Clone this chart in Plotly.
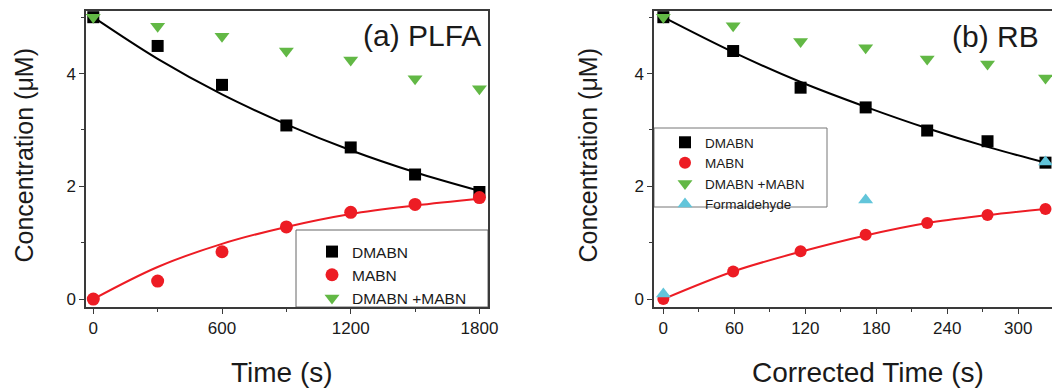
import plotly.graph_objects as go

# ---------------- data: panel (a) PLFA ----------------
time_a = [0, 300, 600, 900, 1200, 1500, 1800]
dmabn_a = [5.00, 4.49, 3.80, 3.08, 2.69, 2.21, 1.90]
mabn_a = [0.00, 0.32, 0.84, 1.28, 1.54, 1.68, 1.80]
sum_a = [5.00, 4.84, 4.66, 4.40, 4.24, 3.91, 3.73]
fit_dmabn_a = [5.00, 4.26, 3.63, 3.10, 2.64, 2.25, 1.92]
fit_mabn_a = [0.00, 0.57, 0.98, 1.28, 1.51, 1.66, 1.78]

# ---------------- data: panel (b) RB ----------------
time_b = [0, 59, 116, 171, 223, 274, 323]
dmabn_b = [5.00, 4.40, 3.75, 3.40, 2.99, 2.80, 2.42]
mabn_b = [0.00, 0.49, 0.85, 1.14, 1.35, 1.49, 1.60]
sum_b = [5.00, 4.85, 4.57, 4.46, 4.26, 4.17, 3.92]
fit_dmabn_b = [5.00, 4.38, 3.85, 3.41, 3.03, 2.70, 2.42]
fit_mabn_b = [0.00, 0.49, 0.84, 1.13, 1.35, 1.49, 1.60]
time_form_b = [0, 171, 323]
form_b = [0.09, 1.76, 2.43]

x_ticks_a = [0, 600, 1200, 1800]
x_ticks_b = [0, 60, 120, 180, 240, 300]
y_ticks = [0, 2, 4]

FONT = "Arial, Liberation Sans, Helvetica, sans-serif"
BLACK = "#000000"
RED = "#ed1c24"
GREEN = "#62b845"
CYAN = "#62c5da"
AXC = "#3a3a3a"
TXT = "#1a1a1a"

fig = go.Figure()

# ---- panel (a) ----
fig.add_trace(go.Scatter(x=time_a, y=fit_dmabn_a, mode="lines", line=dict(color=BLACK, width=2, shape="spline"),
                         showlegend=False, xaxis="x", yaxis="y", hoverinfo="skip"))
fig.add_trace(go.Scatter(x=time_a, y=fit_mabn_a, mode="lines", line=dict(color=RED, width=2, shape="spline"),
                         showlegend=False, xaxis="x", yaxis="y", hoverinfo="skip"))
fig.add_trace(go.Scatter(x=time_a, y=dmabn_a, mode="markers", name="DMABN",
                         marker=dict(symbol="square", size=12, color=BLACK), xaxis="x", yaxis="y", legend="legend"))
fig.add_trace(go.Scatter(x=time_a, y=mabn_a, mode="markers", name="MABN",
                         marker=dict(symbol="circle", size=13, color=RED), xaxis="x", yaxis="y", legend="legend"))
fig.add_trace(go.Scatter(x=time_a, y=sum_a, mode="markers", name="DMABN +MABN",
                         marker=dict(symbol="triangle-down", size=13, color=GREEN), xaxis="x", yaxis="y", legend="legend"))

# ---- panel (b) ----
fig.add_trace(go.Scatter(x=time_b, y=fit_dmabn_b, mode="lines", line=dict(color=BLACK, width=2, shape="spline"),
                         showlegend=False, xaxis="x2", yaxis="y2", hoverinfo="skip"))
fig.add_trace(go.Scatter(x=time_b, y=fit_mabn_b, mode="lines", line=dict(color=RED, width=2, shape="spline"),
                         showlegend=False, xaxis="x2", yaxis="y2", hoverinfo="skip"))
fig.add_trace(go.Scatter(x=time_b, y=dmabn_b, mode="markers", name="DMABN",
                         marker=dict(symbol="square", size=12, color=BLACK), xaxis="x2", yaxis="y2", legend="legend2"))
fig.add_trace(go.Scatter(x=time_b, y=mabn_b, mode="markers", name="MABN",
                         marker=dict(symbol="circle", size=12, color=RED), xaxis="x2", yaxis="y2", legend="legend2"))
fig.add_trace(go.Scatter(x=time_b, y=sum_b, mode="markers", name="DMABN +MABN",
                         marker=dict(symbol="triangle-down", size=13, color=GREEN), xaxis="x2", yaxis="y2", legend="legend2"))
fig.add_trace(go.Scatter(x=time_form_b, y=form_b, mode="markers", name="Formaldehyde",
                         marker=dict(symbol="triangle-up", size=13, color=CYAN), xaxis="x2", yaxis="y2", legend="legend2"))

W, H = 1052, 389
ydom = [(H - 307) / H, (H - 11) / H]

axis_common = dict(showline=True, linecolor=AXC, linewidth=1.5, mirror=True, showgrid=False, zeroline=False,
                   ticks="outside", ticklen=5, tickwidth=1.2, tickcolor=AXC, automargin=False,
                   tickfont=dict(family=FONT, size=17, color=TXT))

fig.update_layout(
    width=W, height=H, autosize=False,
    margin=dict(l=0, r=0, t=0, b=0, pad=0, autoexpand=False),
    paper_bgcolor="white", plot_bgcolor="white",
    xaxis=dict(domain=[86 / W, 488 / W], range=[-34, 1840], tickvals=x_ticks_a,
               minor=dict(dtick=300, tick0=0, ticks="outside", ticklen=3, tickcolor=AXC, tickwidth=1.2),
               anchor="y", **axis_common),
    yaxis=dict(domain=ydom, range=[-0.14, 5.11], tickvals=y_ticks,
               minor=dict(dtick=1, tick0=0, ticks="outside", ticklen=3, tickcolor=AXC, tickwidth=1.2),
               anchor="x", **axis_common),
    xaxis2=dict(domain=[654 / W, 1.0], range=[-7.9, 328.5], tickvals=x_ticks_b,
                minor=dict(dtick=30, tick0=0, ticks="outside", ticklen=3, tickcolor=AXC, tickwidth=1.2),
                anchor="y2", **axis_common),
    yaxis2=dict(domain=ydom, range=[-0.14, 5.11], tickvals=y_ticks,
                minor=dict(dtick=1, tick0=0, ticks="outside", ticklen=3, tickcolor=AXC, tickwidth=1.2),
                anchor="x2", **axis_common),
    legend=dict(x=312 / W, xanchor="left", y=(H - 235) / H, yanchor="top",
                bgcolor="rgba(0,0,0,0)", borderwidth=0, font=dict(family=FONT, size=15.5, color=TXT),
                tracegroupgap=0),
    legend2=dict(x=665 / W, xanchor="left", y=(H - 127) / H, yanchor="top",
                 bgcolor="rgba(0,0,0,0)", borderwidth=0, font=dict(family=FONT, size=13.5, color=TXT),
                 tracegroupgap=0),
    shapes=[
        dict(type="rect", xref="x domain", yref="y domain", x0=(296 - 86) / 402, x1=1.0,
             y0=0.0, y1=(307 - 230) / 296, line=dict(color="#666666", width=1), fillcolor="white", layer="below"),
        dict(type="rect", xref="x2 domain", yref="y2 domain", x0=0.0, x1=(827 - 654) / 398,
             y0=(307 - 207) / 296, y1=(307 - 128) / 296, line=dict(color="#777777", width=1),
             fillcolor="white", layer="below"),
    ],
    annotations=[
        dict(text="(a) PLFA", xref="paper", yref="paper", x=483 / W, y=1 - 35 / H, xanchor="right",
             yanchor="middle", showarrow=False, font=dict(family=FONT, size=30, color=TXT)),
        dict(text="(b) RB", xref="paper", yref="paper", x=1041 / W, y=1 - 36 / H, xanchor="right",
             yanchor="middle", showarrow=False, font=dict(family=FONT, size=30, color=TXT)),
        dict(text="Time (s)", xref="paper", yref="paper", x=281.5 / W, y=1 - 372 / H, xanchor="center",
             yanchor="middle", showarrow=False, font=dict(family=FONT, size=28, color=TXT)),
        dict(text="Corrected Time (s)", xref="paper", yref="paper", x=868 / W, y=1 - 372 / H, xanchor="center",
             yanchor="middle", showarrow=False, font=dict(family=FONT, size=28, color=TXT)),
        dict(text="Concentration (μM)", xref="paper", yref="paper", x=23.5 / W, y=1 - 156 / H, xanchor="center",
             yanchor="middle", textangle=-90, showarrow=False, font=dict(family=FONT, size=25, color=TXT)),
        dict(text="Concentration (μM)", xref="paper", yref="paper", x=587.5 / W, y=1 - 156 / H, xanchor="center",
             yanchor="middle", textangle=-90, showarrow=False, font=dict(family=FONT, size=25, color=TXT)),
    ],
)

fig.write_html("out.html", config={"responsive": False})
